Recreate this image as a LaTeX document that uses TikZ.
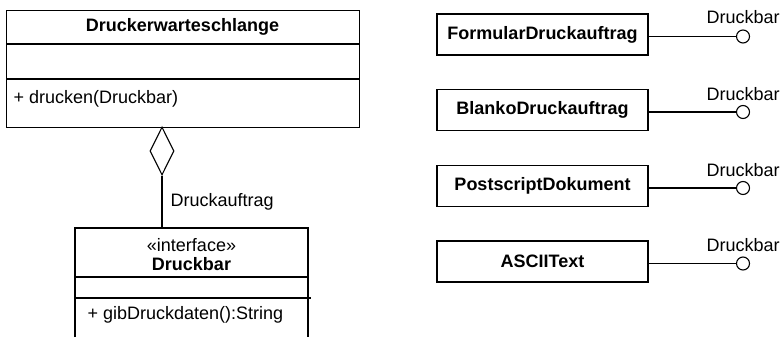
\documentclass[tikz,border=0pt]{standalone}
\usepackage{fontspec}
\setmainfont{Liberation Sans}
\usetikzlibrary{shapes.geometric}
\begin{document}
\begin{tikzpicture}[x=1pt,y=-1pt,line width=1.3pt,
  every node/.style={font=\fontsize{18}{21}\selectfont},
  clsbox/.style={draw,rectangle,minimum width=211pt,minimum height=41pt,inner sep=0pt,font=\fontsize{18}{21}\selectfont\bfseries},
  lolli/.style={draw,circle,minimum size=13pt,inner sep=0pt,line width=1.1pt,fill=white},
  lbl/.style={inner sep=0pt,anchor=base west},
  agg/.style={draw,diamond,minimum width=24pt,minimum height=48pt,inner sep=0pt,line width=1.1pt,fill=white}]
\useasboundingbox (0,0) rectangle (783,337);
% Druckerwarteschlange
\node (dw) [draw,rectangle,anchor=north west,minimum width=353pt,minimum height=117pt,inner sep=0pt] at (6,10) {};
\draw (6,44) -- (359,44);
\draw (6,79) -- (359,79);
\node (dwname) at (182.5,27) {\bfseries Druckerwarteschlange};
\node (dwop) [lbl] at (13,103) {+ drucken(Druckbar)};
% aggregation
\node (aggd) [agg] at (162,151) {};
\coordinate (dbtop) at (162,228);
\draw (aggd.south) -- (dbtop);
\node (role) [lbl] at (170,206) {Druckauftrag};
% Druckbar interface
\draw (75,337) -- (75,228) -- (308,228) -- (308,337);
\draw (75,277) -- (307,277);
\draw (75,298) -- (311,298);
\node (ster) at (191.5,245) {«interface»};
\node (dbname) at (191.5,264) {\bfseries Druckbar};
\node (dbop) [lbl] at (87,319) {+ gibDruckdaten():String};
% right side classes
\node (c1) [clsbox] at (542.5,34.5) {FormularDruckauftrag};
\node (c2) [clsbox] at (542.5,110) {BlankoDruckauftrag};
\node (c3) [clsbox] at (542.5,186) {PostscriptDokument};
\node (c4) [clsbox] at (542.5,261.5) {ASCIIText};
\node (i1) [lolli] at (743,36.5) {};
\node (i2) [lolli] at (743,112) {};
\node (i3) [lolli] at (743,188) {};
\node (i4) [lolli] at (743,263.5) {};
\draw (c1.east |- i1) -- (i1.west);
\draw (c2.east |- i2) -- (i2.west);
\draw (c3.east |- i3) -- (i3.west);
\draw (c4.east |- i4) -- (i4.west);
\node (l1) [lbl] at (706,24) {Druckbar};
\node (l2) [lbl] at (706,100) {Druckbar};
\node (l3) [lbl] at (706,176) {Druckbar};
\node (l4) [lbl] at (706,251) {Druckbar};
\end{tikzpicture}
\end{document}
